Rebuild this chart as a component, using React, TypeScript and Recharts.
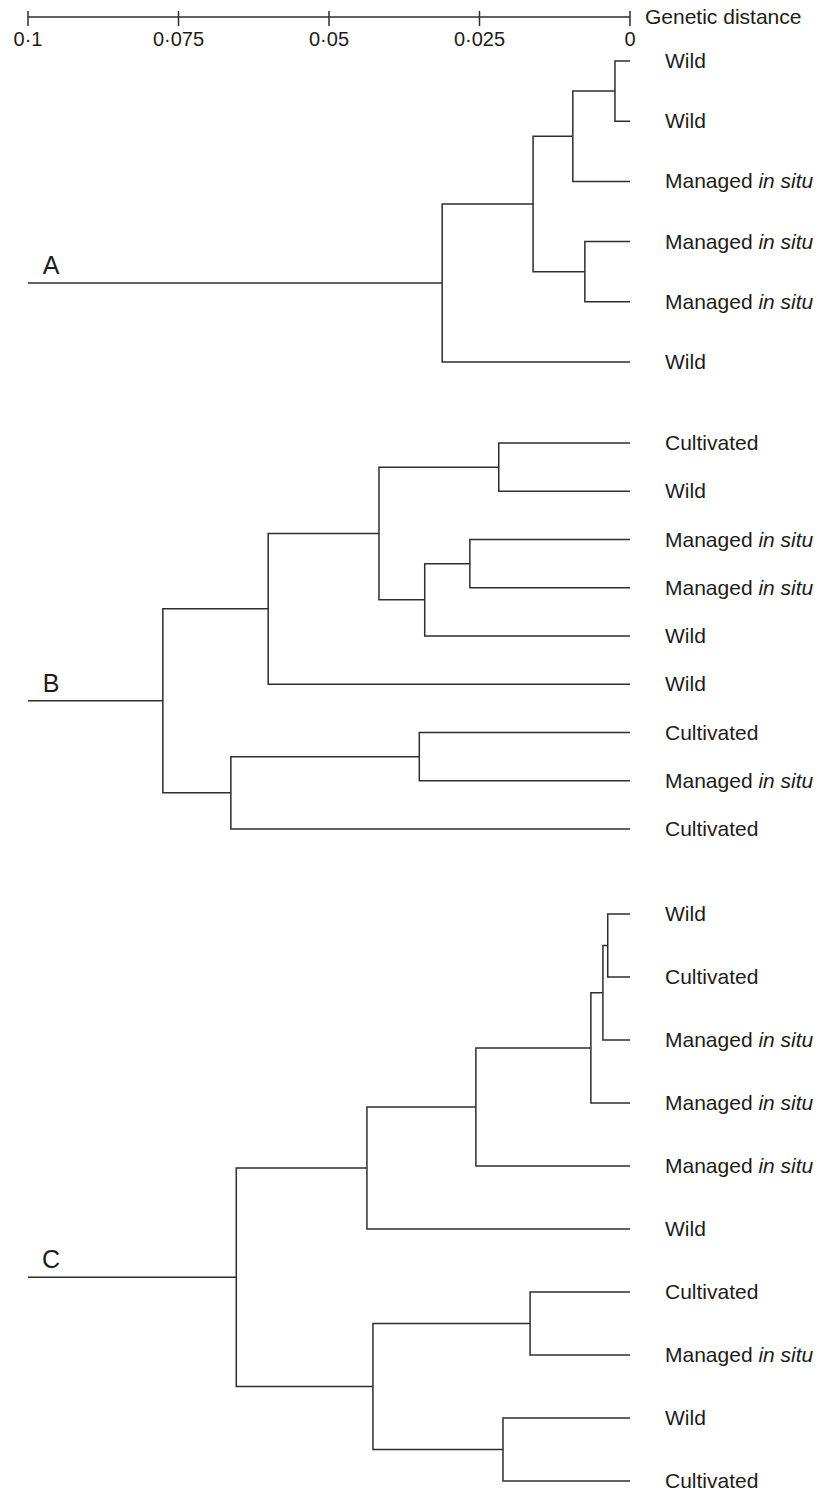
import React from 'react';
import { ScatterChart, Scatter, XAxis, YAxis, ReferenceDot, Label } from 'recharts';

document.body.style.margin = '0';

type Merge = [number, number, number];

// genetic distance axis (drawn right to left)
const distanceTicks = [0.1, 0.075, 0.05, 0.025, 0];

// tree A
const leavesA = ['Wild', 'Wild', 'Managed in situ', 'Managed in situ', 'Managed in situ', 'Wild'];
const mergesA: Merge[] = [
  [0, 1, 0.0025],
  [6, 2, 0.0095],
  [3, 4, 0.0075],
  [7, 8, 0.0161],
  [9, 5, 0.0312],
];

// tree B
const leavesB = [
  'Cultivated', 'Wild', 'Managed in situ', 'Managed in situ', 'Wild',
  'Wild', 'Cultivated', 'Managed in situ', 'Cultivated',
];
const mergesB: Merge[] = [
  [0, 1, 0.0218],
  [2, 3, 0.0266],
  [10, 4, 0.0341],
  [9, 11, 0.0417],
  [12, 5, 0.0601],
  [6, 7, 0.035],
  [14, 8, 0.0663],
  [13, 15, 0.0776],
];

// tree C
const leavesC = [
  'Wild', 'Cultivated', 'Managed in situ', 'Managed in situ', 'Managed in situ',
  'Wild', 'Cultivated', 'Managed in situ', 'Wild', 'Cultivated',
];
const mergesC: Merge[] = [
  [0, 1, 0.0037],
  [10, 2, 0.0045],
  [11, 3, 0.0065],
  [12, 4, 0.0256],
  [13, 5, 0.0437],
  [6, 7, 0.0166],
  [8, 9, 0.0211],
  [15, 16, 0.0427],
  [14, 17, 0.0654],
];

const W = 820;
const H = 1493;
const AXIS_H = 17;
const LINE = '#2e2e2e';
const TEXT = '#1c1c1c';
const FONT = '"Liberation Sans", Arial, Helvetica, sans-serif';

interface Pt { x: number; y: number }

// lay out one dendrogram: leaves evenly spaced, each node midway between its children
function buildTree(name: string, leaves: string[], merges: Merge[], top: number, step: number) {
  const ys = leaves.map((_, i) => top + i * step);
  const hs = leaves.map(() => 0);
  const links: Pt[][] = [];
  merges.forEach(([a, b, h]) => {
    links.push([
      { x: hs[a], y: ys[a] },
      { x: h, y: ys[a] },
      { x: h, y: ys[b] },
      { x: hs[b], y: ys[b] },
    ]);
    ys.push((ys[a] + ys[b]) / 2);
    hs.push(h);
  });
  const rootY = ys[ys.length - 1];
  links.push([
    { x: distanceTicks[0], y: rootY },
    { x: hs[hs.length - 1], y: rootY },
  ]);
  return {
    name,
    rootY,
    links,
    leaves: leaves.map((label, i) => ({ label, y: top + i * step })),
  };
}

const trees = [
  buildTree('A', leavesA, mergesA, 61, 60.2),
  buildTree('B', leavesB, mergesB, 443, 48.25),
  buildTree('C', leavesC, mergesC, 914, 63.0),
];
const allLeaves = trees.flatMap((t) => t.leaves);

const noDot = () => <g />;

const DistanceTick = ({ x, y, payload }: any) => (
  <g>
    <line x1={x} x2={x} y1={y - 6} y2={y + 9} stroke={LINE} strokeWidth={1.5} />
    <text x={x} y={y + 29} textAnchor="middle" fontSize={20} fontFamily={FONT} fill={TEXT}>
      {String(payload.value).replace('.', '\u00b7')}
    </text>
  </g>
);

const LeafTick = ({ x, y, payload }: any) => {
  const leaf = allLeaves.find((l) => Math.abs(l.y - payload.value) < 0.01);
  if (!leaf) return <g />;
  const italic = leaf.label.endsWith(' in situ');
  return (
    <text x={x + 35} y={y + 7} textAnchor="start" fontSize={21} fontFamily={FONT} fill={TEXT}>
      {italic ? (
        <>
          <tspan>{leaf.label.replace(' in situ', ' ')}</tspan>
          <tspan fontStyle="italic">in situ</tspan>
        </>
      ) : (
        leaf.label
      )}
    </text>
  );
};

const AxisTitle = ({ viewBox }: any) => (
  <text
    x={viewBox.x + viewBox.width + 15}
    y={viewBox.y + viewBox.height + 7}
    fontSize={21}
    fontFamily={FONT}
    fill={TEXT}
  >
    Genetic distance
  </text>
);

export default function App() {
  return (
    <div style={{ width: W, height: H, background: '#fff' }}>
      <ScatterChart width={W} height={H} margin={{ top: 0, right: 0, bottom: 0, left: 28 }}>
        <XAxis
          type="number"
          dataKey="x"
          orientation="top"
          domain={[0, 0.1]}
          reversed
          allowDataOverflow
          height={AXIS_H}
          ticks={distanceTicks}
          interval={0}
          tickLine={false}
          tickSize={0}
          tickMargin={0}
          tick={DistanceTick}
          axisLine={{ stroke: LINE, strokeWidth: 1.5 }}
        >
          <Label content={AxisTitle} />
        </XAxis>
        <YAxis
          type="number"
          dataKey="y"
          orientation="right"
          domain={[AXIS_H, H]}
          reversed
          allowDataOverflow
          width={190}
          ticks={allLeaves.map((l) => l.y)}
          interval={0}
          tickLine={false}
          axisLine={false}
          tickSize={0}
          tickMargin={0}
          tick={LeafTick}
        />
        {trees.flatMap((t) =>
          t.links.map((pts, i) => (
            <Scatter
              key={`${t.name}-${i}`}
              data={pts}
              line={{ stroke: LINE, strokeWidth: 1.5 }}
              lineType="joint"
              lineJointType="linear"
              shape={noDot}
              isAnimationActive={false}
            />
          ))
        )}
        {trees.map((t) => (
          <ReferenceDot
            key={`label-${t.name}`}
            x={distanceTicks[0]}
            y={t.rootY}
            r={0}
            fill="none"
            stroke="none"
            label={({ viewBox }: any) => (
              <text
                x={viewBox.x + 23}
                y={viewBox.y - 9}
                textAnchor="middle"
                fontSize={25}
                fontFamily={FONT}
                fill={TEXT}
              >
                {t.name}
              </text>
            )}
          />
        ))}
      </ScatterChart>
    </div>
  );
}
